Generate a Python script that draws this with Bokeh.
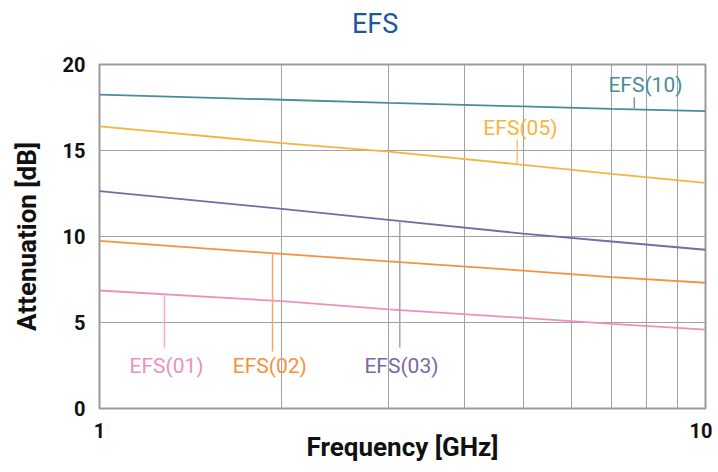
import numpy as np
from bokeh.plotting import figure
from bokeh.models import FixedTicker, ColumnDataSource, Div
from bokeh.layouts import column
from bokeh.core.properties import value
from bokeh.embed import file_html
from bokeh.resources import INLINE

# ---- data ----
freq_ghz = [1, 2, 3, 5, 7, 10]
efs01 = [6.86, 6.24, 5.76, 5.27, 4.92, 4.59]
efs02 = [9.74, 8.99, 8.55, 8.02, 7.64, 7.31]
efs03 = [12.64, 11.61, 10.97, 10.17, 9.71, 9.23]
efs05 = [16.40, 15.43, 14.94, 14.17, 13.64, 13.12]
efs10 = [18.25, 17.95, 17.77, 17.56, 17.42, 17.29]

series_names = ["EFS(01)", "EFS(02)", "EFS(03)", "EFS(05)", "EFS(10)"]
series_vals = [efs01, efs02, efs03, efs05, efs10]
series_colors = ["#ee8fc0", "#f5923e", "#7b68a6", "#f5b53f", "#4a8c99"]
leader_colors = ["#f3acd0", "#f6a868", "#a99cc8", "#f6c46a", "#6e9fab"]

# label annotation positions
leader_x = [1.28, 1.93, 3.13, 4.89, 7.63]
leader_top = [3.55, 3.31, 3.55, 15.64, 18.1]
label_x = [1.29, 1.91, 3.15, 4.95, 7.96]
label_y = [2.5, 2.5, 2.5, 16.3, 18.78]

x_ticks = [1, 10]
x_tick_labels = {1: "1", 10: "10"}
x_minor = [2, 3, 4, 5, 6, 7, 8, 9]
y_ticks = [0, 5, 10, 15, 20]

FONT = "Roboto"
TITLE = "EFS"

title_div = Div(
    text=('<div style="font-family:Roboto;font-size:27px;color:#1f56a0;'
          'line-height:32px;margin:8px 0 0 352px;white-space:nowrap">%s</div>' % TITLE),
    width=712, height=40, margin=0)

p = figure(width=712, height=430, x_axis_type="log", x_range=(1, 10), y_range=(0, 20),
           output_backend="svg", toolbar_location=None,
           min_border_left=99, min_border_right=7, min_border_top=24, min_border_bottom=62)

p.outline_line_color = "#9a9a9a"
p.outline_line_width = 2

p.xaxis.ticker = FixedTicker(ticks=x_ticks, minor_ticks=x_minor)
p.xaxis.major_label_overrides = x_tick_labels
p.yaxis.ticker = FixedTicker(ticks=y_ticks)
for ax in (p.xaxis, p.yaxis):
    ax.axis_line_color = None
    ax.major_tick_line_color = None
    ax.minor_tick_line_color = None
    ax.major_tick_out = 0
    ax.minor_tick_out = 0
    ax.major_label_text_font = FONT
    ax.major_label_text_font_style = "bold"
    ax.major_label_text_font_size = "20px"
    ax.major_label_text_color = "#111111"
    ax.axis_label_text_font = FONT
    ax.axis_label_text_font_style = "bold"
    ax.axis_label_text_font_size = "26px"
    ax.axis_label_text_color = "#111111"

p.xaxis.axis_label = "Frequency [GHz]"
p.yaxis.axis_label = "Attenuation [dB]"
p.xaxis.major_label_standoff = 14
p.xaxis.axis_label_standoff = -9
p.yaxis.major_label_standoff = 14
p.yaxis.axis_label_standoff = 18

p.xgrid.grid_line_color = "#a2a2a2"
p.xgrid.grid_line_width = 1
p.xgrid.minor_grid_line_color = "#a2a2a2"
p.xgrid.minor_grid_line_width = 1
p.ygrid.grid_line_color = "#a2a2a2"
p.ygrid.grid_line_width = 1

for name, vals, col, lcol, lx, lt, tx, ty in zip(series_names, series_vals, series_colors,
                                                  leader_colors, leader_x, leader_top,
                                                  label_x, label_y):
    src = ColumnDataSource(dict(x=freq_ghz, y=vals))
    p.line("x", "y", source=src, line_color=col, line_width=1.8)
    y_on_curve = float(np.interp(np.log10(lx), np.log10(freq_ghz), vals))
    p.segment(x0=[lx], y0=[y_on_curve], x1=[lx], y1=[lt], line_color=lcol, line_width=1.5)
    p.text(x=[tx], y=[ty], text=[name], text_color=col, text_font=value(FONT),
           text_font_size="21px", text_align="center", text_baseline="middle")

layout = column(title_div, p, spacing=0)
open("out.html", "w").write(file_html(layout, INLINE))
